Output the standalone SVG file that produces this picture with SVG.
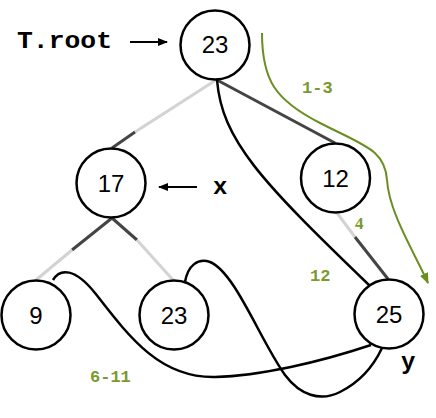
<svg xmlns="http://www.w3.org/2000/svg" width="436" height="418" viewBox="0 0 436 418">
<defs>
<style>
.node circle{fill:#fff;stroke:#000;stroke-width:2.5}
.node text{font-family:"Liberation Sans",Arial,sans-serif;font-size:24px;text-anchor:middle;fill:#000}
.lt{stroke:#d3d3d3;stroke-width:3;fill:none}
.dk{stroke:#444;stroke-width:3;fill:none}
.cv{stroke:#000;stroke-width:2.5;fill:none}
.ptr{stroke:#000;stroke-width:2;fill:none}
.lbl{font-family:"Liberation Mono","Courier New",monospace;font-weight:bold;fill:#000}
.gl{font-family:"Liberation Mono","Courier New",monospace;font-size:17px;font-weight:bold;fill:#7a9a30}
</style>
<marker id="ah" viewBox="0 0 10 10" refX="9" refY="5" markerWidth="10" markerHeight="10" markerUnits="userSpaceOnUse" orient="auto">
<path d="M0,1 L10,5 L0,9 z" fill="#000"/>
</marker>
<marker id="gah" viewBox="0 0 10 10" refX="9" refY="5" markerWidth="11" markerHeight="11" markerUnits="userSpaceOnUse" orient="auto">
<path d="M0,1 L10,5 L0,9 z" fill="#6b8e23"/>
</marker>
</defs>
<g id="connectors">
<path class="lt" d="M216,80 L135,132"/>
<path class="dk" d="M135,132 L112,148"/>
<path class="dk" d="M112,218 L72,250"/>
<path class="lt" d="M72,250 L36,280"/>
<path class="dk" d="M112,218 L137,240"/>
<path class="lt" d="M137,240 L173,280"/>
<path class="dk" d="M217,80 L335,143"/>
<path class="lt" d="M337,213 L355,237"/>
<path class="dk" d="M355,237 L388,279"/>
<path class="cv" d="M217,80 C222,140 260,180 369,285"/>
<path class="cv" d="M53,280 C60,268 75,268 95,293 C130,338 160,378 215,377 C260,376 320,362 371,345"/>
<path class="cv" d="M185,282 C188,265 198,258 210,262 C235,272 260,340 285,375 C300,395 320,402 340,392 C360,382 374,365 382,348"/>
<path d="M262,33 C262,80 275,100 320,123 C365,146 385,150 387,180 C389,212 413,250 428,283" stroke="#6b8e23" stroke-width="2" fill="none" marker-end="url(#gah)"/>
<path class="ptr" d="M130,42 L167,42" marker-end="url(#ah)"/>
<path class="ptr" d="M197,187 L159,187" marker-end="url(#ah)"/>
</g>
<g id="n23root" class="node"><circle cx="215" cy="45" r="34.5"/><text x="215" y="53">23</text></g>
<g id="n17" class="node"><circle cx="111" cy="183" r="34.5"/><text x="111" y="192">17</text></g>
<g id="n12" class="node"><circle cx="335.5" cy="178" r="34.5"/><text x="335.5" y="187">12</text></g>
<g id="n9" class="node"><circle cx="36" cy="315" r="34.5"/><text x="36" y="324">9</text></g>
<g id="n23" class="node"><circle cx="174" cy="315" r="34.5"/><text x="174" y="324">23</text></g>
<g id="n25" class="node"><circle cx="389" cy="314" r="34.5"/><text x="389" y="323">25</text></g>
<g id="labels">
<text class="lbl" x="17" y="48" font-size="24" textLength="95" lengthAdjust="spacingAndGlyphs">T.root</text>
<text class="lbl" x="213" y="194" font-size="24">x</text>
<text class="lbl" x="401" y="369" font-size="24">y</text>
<text class="gl" x="302" y="93">1-3</text>
<text x="355" y="229" style="font-family:'Liberation Serif',serif;font-size:17px;font-weight:bold;fill:#7a9a30">4</text>
<text class="gl" x="310" y="281">12</text>
<text class="gl" x="90" y="382">6-11</text>
</g>
</svg>
